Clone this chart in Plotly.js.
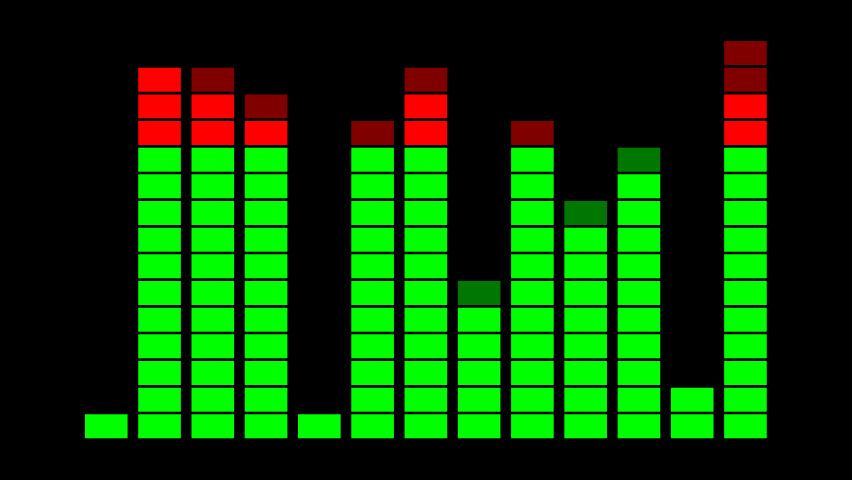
<!DOCTYPE html>
<html>
<head>
<meta charset="utf-8">
<script src="https://cdn.plot.ly/plotly-3.0.1.min.js"></script>
<style>html,body{margin:0;padding:0;background:#000;}#chart{width:852px;height:480px;}</style>
</head>
<body>
<div id="chart"></div>
<script>
// Equalizer data: current level (bright blocks) and peak hold (dimmed blocks) per band
const bands = [1, 2, 3, 4, 5, 6, 7, 8, 9, 10, 11, 12, 13];
const levels = [1, 14, 13, 12, 1, 11, 13, 5, 11, 8, 10, 2, 13];
const peaks  = [1, 14, 14, 13, 1, 12, 14, 6, 12, 9, 11, 2, 15];
const rowCount = 15;
const redFromRow = 11;

const colors = {green: '#00ff00', darkGreen: '#007800', red: '#ff0000', darkRed: '#800000'};
const blockHeight = 0.9;

const traces = [];
for (let r = 0; r < rowCount; r++) {
  const ys = [], cs = [];
  bands.forEach((b, i) => {
    if (r < peaks[i]) {
      ys.push(blockHeight);
      const lit = r < levels[i];
      if (r < redFromRow) cs.push(lit ? colors.green : colors.darkGreen);
      else cs.push(lit ? colors.red : colors.darkRed);
    } else {
      ys.push(null);
      cs.push('rgba(0,0,0,0)');
    }
  });
  traces.push({
    type: 'bar',
    x: bands,
    y: ys,
    base: r,
    width: 0.8,
    marker: {color: cs, line: {width: 0}},
    hoverinfo: 'skip',
    showlegend: false
  });
}

const layout = {
  width: 852, height: 480,
  margin: {l: 0, r: 0, t: 0, b: 0},
  paper_bgcolor: '#000', plot_bgcolor: '#000',
  barmode: 'overlay',
  xaxis: {range: [-0.995, 15.0], visible: false, fixedrange: true},
  yaxis: {range: [-1.564, 16.44], visible: false, fixedrange: true},
  showlegend: false
};

Plotly.newPlot('chart', traces, layout, {displayModeBar: false, staticPlot: true});
</script>
</body>
</html>
